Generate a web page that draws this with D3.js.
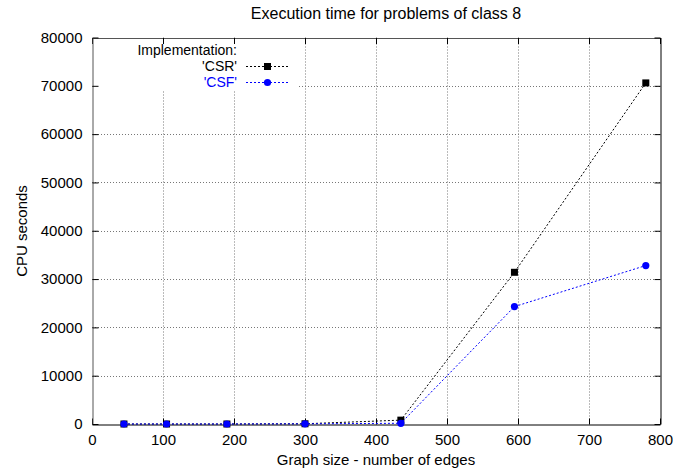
<!DOCTYPE html>
<html>
<head>
<meta charset="utf-8">
<script src="https://cdn.jsdelivr.net/npm/d3@7"></script>
<style>
  body { margin: 0; background: #fff; }
  svg text { font-family: "Liberation Sans", Arial, sans-serif; }
</style>
</head>
<body>
<svg id="chart" width="673" height="472"></svg>
<script>
(function () {
  // edges vs cpu seconds
  var edges = [45, 105, 190, 300, 435, 595, 780];
  var csrTimes = [0, 0, 0, 50, 800, 31400, 70600];
  var csfTimes = [0, 0, 0, 30, 150, 24300, 32800];
  var xTicks = [0, 100, 200, 300, 400, 500, 600, 700, 800];
  var yTicks = [0, 10000, 20000, 30000, 40000, 50000, 60000, 70000, 80000];

  var svg = d3.select('#chart');
  var left = 92, right = 660, top = 37.5, bottom = 424;
  var fs = '15px';

  var x = d3.scaleLinear().domain([0, 800]).range([left, right]);
  var y = d3.scaleLinear().domain([0, 80000]).range([bottom, top]);

  // grid
  svg.selectAll('.vgrid')
    .data(xTicks.slice(1, -1))
    .enter()
    .append('line')
    .attr('class', 'vgrid')
    .attr('x1', function(d) {return x(d) + 0.5;})
    .attr('x2', function(d) {return x(d) + 0.5;})
    .attr('y1', top)
    .attr('y2', bottom)
    .attr('stroke', '#777')
    .attr('stroke-dasharray', '1,2');
  svg.selectAll('.hgrid')
    .data(yTicks.slice(1, -1))
    .enter()
    .append('line')
    .attr('class', 'hgrid')
    .attr('y1', function(d) {return Math.round(y(d)) + 0.5;})
    .attr('y2', function(d) {return Math.round(y(d)) + 0.5;})
    .attr('x1', left)
    .attr('x2', right)
    .attr('stroke', '#777')
    .attr('stroke-dasharray', '1,2');

  // key area hides the grid
  svg.append('rect')
    .attr('x', left + 1)
    .attr('y', top + 1)
    .attr('width', 297 - left)
    .attr('height', 89 - top)
    .attr('fill', '#fff');

  // axes, ticks pointing inward, mirrored
  var fmt = d3.format('d');
  var axB = svg.append('g')
    .attr('transform', 'translate(0,' + (bottom + 0.5) + ')')
    .call(d3.axisBottom(x).tickValues(xTicks).tickFormat(fmt).tickSizeInner(-6).tickSizeOuter(0).tickPadding(10));
  var axT = svg.append('g')
    .attr('transform', 'translate(0,' + (top + 0.5) + ')')
    .call(d3.axisTop(x).tickValues(xTicks).tickSizeInner(-6).tickSizeOuter(0).tickFormat(''));
  var axL = svg.append('g')
    .attr('transform', 'translate(' + (left + 0.5) + ',0)')
    .call(d3.axisLeft(y).tickValues(yTicks).tickFormat(fmt).tickSizeInner(-6).tickSizeOuter(0).tickPadding(10));
  var axR = svg.append('g')
    .attr('transform', 'translate(' + (right + 0.5) + ',0)')
    .call(d3.axisRight(y).tickValues(yTicks).tickSizeInner(-6).tickSizeOuter(0).tickFormat(''));
  [axB, axT, axL, axR].forEach(function(g) {
    g.select('.domain').attr('stroke', '#000');
    g.selectAll('.tick line').attr('stroke', '#000');
    g.selectAll('text')
      .attr('font-family', '"Liberation Sans", Arial, sans-serif')
      .attr('font-size', fs)
      .attr('fill', '#000');
  });
  axT.select('.domain').attr('stroke', '#555');
  axL.select('.domain').attr('stroke', '#555');

  // series
  var series = [
    {name: "'CSR'", values: csrTimes, color: '#000', shape: 'square'},
    {name: "'CSF'", values: csfTimes, color: '#0000ff', shape: 'circle'}
  ];
  var line = d3.line()
    .x(function(d) {return x(d[0]);})
    .y(function(d) {return y(d[1]);});

  series.forEach(function(s) {
    var pts = edges.map(function(e, i) {return [e, s.values[i]];});
    svg.append('path')
      .attr('d', line(pts))
      .attr('fill', 'none')
      .attr('stroke', s.color)
      .attr('stroke-width', 1)
      .attr('stroke-dasharray', '2,2');
    if (s.shape === 'square') {
      svg.selectAll('.pt-sq')
        .data(pts)
        .enter()
        .append('rect')
        .attr('class', 'pt-sq')
        .attr('x', function(d) {return x(d[0]) - 3.5;})
        .attr('y', function(d) {return y(d[1]) - 3.5;})
        .attr('width', 7)
        .attr('height', 7)
        .attr('fill', s.color);
    } else {
      svg.selectAll('.pt-ci')
        .data(pts)
        .enter()
        .append('circle')
        .attr('class', 'pt-ci')
        .attr('cx', function(d) {return x(d[0]);})
        .attr('cy', function(d) {return y(d[1]);})
        .attr('r', 3.6)
        .attr('fill', s.color);
    }
  });

  // key
  var kfs = '14px';
  svg.append('text')
    .text('Implementation:')
    .attr('x', 237)
    .attr('y', 50.5)
    .attr('dy', '0.35em')
    .attr('text-anchor', 'end')
    .attr('font-size', kfs);
  series.forEach(function(s, i) {
    var ky = 66.5 + i * 16;
    svg.append('text')
      .text(s.name)
      .attr('x', 237)
      .attr('y', ky)
      .attr('dy', '0.35em')
      .attr('text-anchor', 'end')
      .attr('font-size', kfs)
      .attr('fill', s.color);
    svg.append('line')
      .attr('x1', 246)
      .attr('x2', 289)
      .attr('y1', ky)
      .attr('y2', ky)
      .attr('stroke', s.color)
      .attr('stroke-dasharray', '2,2');
    if (s.shape === 'square') {
      svg.append('rect')
        .attr('x', 267.5 - 3.5)
        .attr('y', ky - 3.5)
        .attr('width', 7)
        .attr('height', 7)
        .attr('fill', s.color);
    } else {
      svg.append('circle')
        .attr('cx', 267.5)
        .attr('cy', ky)
        .attr('r', 3.6)
        .attr('fill', s.color);
    }
  });

  // titles
  svg.append('text')
    .text('Execution time for problems of class 8')
    .attr('x', 386)
    .attr('y', 19)
    .attr('text-anchor', 'middle')
    .attr('font-size', '16px');
  svg.append('text')
    .text('Graph size - number of edges')
    .attr('x', 376)
    .attr('y', 465)
    .attr('text-anchor', 'middle')
    .attr('font-size', fs);
  svg.append('text')
    .text('CPU seconds')
    .attr('transform', 'translate(27,231) rotate(-90)')
    .attr('text-anchor', 'middle')
    .attr('font-size', fs);
})();
</script>
</body>
</html>
